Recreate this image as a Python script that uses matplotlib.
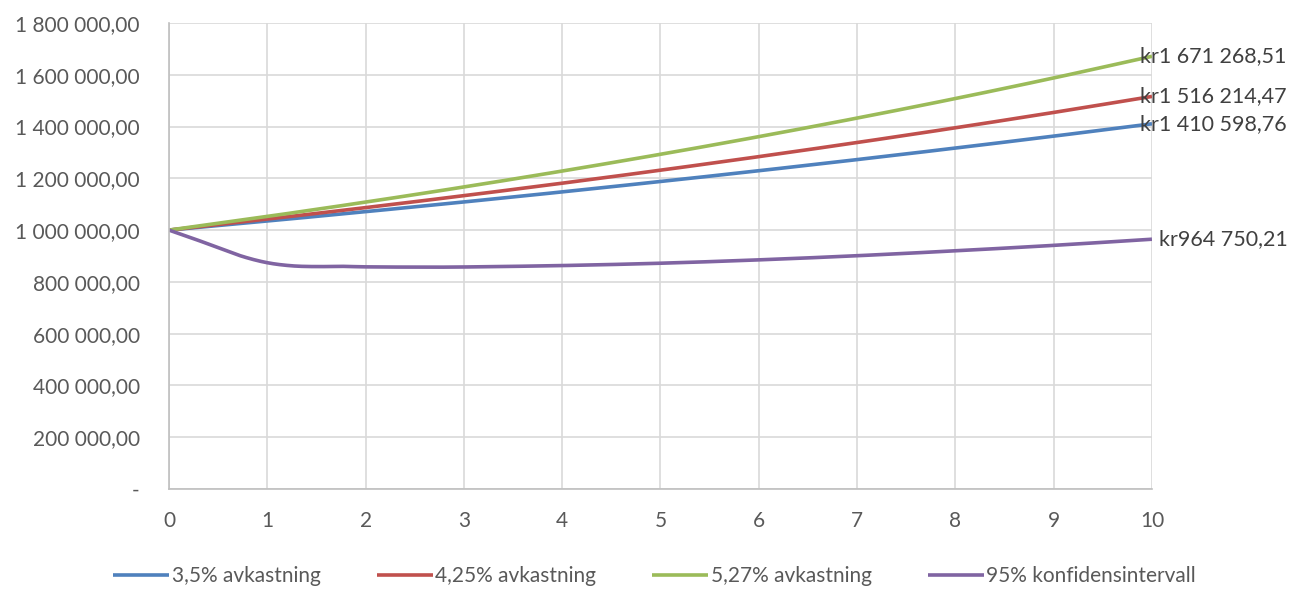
import numpy as np
import matplotlib.pyplot as plt
from matplotlib.ticker import FuncFormatter

years = [0, 1, 2, 3, 4, 5, 6, 7, 8, 9, 10]
avk_35 = [1000000.00, 1035000.00, 1071225.00, 1108717.88, 1147523.00, 1187686.31,
          1229255.33, 1272279.26, 1316809.04, 1362897.36, 1410598.76]
avk_425 = [1000000.00, 1042500.00, 1086806.25, 1132995.52, 1181147.83, 1231346.61,
           1283678.84, 1338235.19, 1395110.19, 1454402.37, 1516214.47]
avk_527 = [1000000.00, 1052700.00, 1108177.29, 1166578.23, 1228056.90, 1292775.50,
           1360904.77, 1432624.45, 1508123.76, 1587601.88, 1671268.51]

ki_years = [0, 0.25, 0.5, 0.75, 1, 1.25, 1.5, 1.75, 2, 2.5, 3, 4, 5, 6, 7, 8, 9, 10]
ki_95 = [1000000, 967000, 932000, 898000, 874000, 862000, 859000, 860000, 858000,
         857000, 857500, 863000, 872000, 885000, 901000, 920000, 941000, 964750.21]

series_names = ["3,5% avkastning", "4,25% avkastning", "5,27% avkastning", "95% konfidensintervall"]
end_labels = ["kr1 410 598,76", "kr1 516 214,47", "kr1 671 268,51", "kr964 750,21"]

plt.rcParams['font.family'] = ['Lato', 'DejaVu Sans']
txt = '#595959'


def smooth(x, y, n=20):
    # Catmull-Rom drawing of the points, like Excel's smoothed line
    x = np.asarray(x, float)
    y = np.asarray(y, float)
    px = np.concatenate([[2 * x[0] - x[1]], x, [2 * x[-1] - x[-2]]])
    py = np.concatenate([[2 * y[0] - y[1]], y, [2 * y[-1] - y[-2]]])
    ox, oy = [], []
    t = np.linspace(0, 1, n, endpoint=False)
    for i in range(1, len(px) - 2):
        for p, out in ((px, ox), (py, oy)):
            p0, p1, p2, p3 = p[i - 1], p[i], p[i + 1], p[i + 2]
            out.extend(0.5 * (2 * p1 + (-p0 + p2) * t + (2 * p0 - 5 * p1 + 4 * p2 - p3) * t ** 2
                              + (-p0 + 3 * p1 - 3 * p2 + p3) * t ** 3))
    ox.append(x[-1])
    oy.append(y[-1])
    return ox, oy


fig = plt.figure(figsize=(12.91, 5.89), dpi=100)
ax = fig.add_axes([0.1309, 0.1698, 0.7614, 0.7912])

colors = ['#4F81BD', '#C0504D', '#9BBB59', '#8064A2']
xs = [years, years, years, ki_years]
ys = [avk_35, avk_425, avk_527, ki_95]
for x, y, c, name in zip(xs, ys, colors, series_names):
    sx, sy = smooth(x, y)
    ax.plot(sx, sy, color=c, lw=2.6, label=name, solid_capstyle='butt')

# end labels
for i, (y, lab) in enumerate(zip(ys, end_labels)):
    if i < 3:
        ax.annotate(lab, xy=(10, y[-1]), xytext=(97, 0), textcoords='offset points',
                    ha='right', va='center', fontsize=15.5, color='#404040',
                    annotation_clip=False)
    else:
        ax.annotate(lab, xy=(10, y[-1]), xytext=(5, 0), textcoords='offset points',
                    ha='left', va='center', fontsize=15.5, color='#404040',
                    annotation_clip=False)

ax.set_xlim(0, 10)
ax.set_ylim(0, 1800000)
ax.set_xticks(range(0, 11))
ax.set_yticks(range(0, 1800001, 200000))


def fmt(v, pos):
    if v == 0:
        return '-'
    s = f"{v:,.2f}"
    return s.replace(',', ' ').replace('.', ',')


ax.yaxis.set_major_formatter(FuncFormatter(fmt))
ax.tick_params(axis='both', length=0, labelsize=15, labelcolor=txt)
ax.tick_params(axis='y', pad=21)
ax.tick_params(axis='x', pad=16)
ax.grid(True, color='#d9d9d9', lw=1.2)
ax.set_axisbelow(True)
for s in ['top', 'right']:
    ax.spines[s].set_visible(False)
for s in ['left', 'bottom']:
    ax.spines[s].set_color('#bfbfbf')
    ax.spines[s].set_linewidth(1.2)

fig.legend(loc='center', bbox_to_anchor=(0.507, 0.022), ncol=4, frameon=False,
           fontsize=15, labelcolor=txt, handlelength=2.7, handletextpad=0.1,
           columnspacing=2.7)

fig.savefig('out.png', dpi=100)
